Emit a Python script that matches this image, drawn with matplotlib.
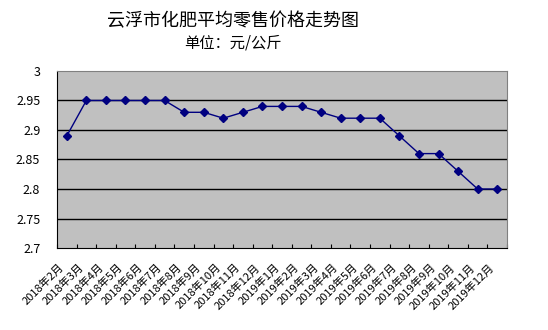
import matplotlib
matplotlib.use("Agg")
import matplotlib.pyplot as plt
import matplotlib.transforms as mtransforms
import numpy as np

plt.rcParams['font.family'] = ['Noto Sans CJK SC', 'DejaVu Sans']

# 月份与价格（元/公斤）
months = ['2018年2月', '2018年3月', '2018年4月', '2018年5月', '2018年6月', '2018年7月',
          '2018年8月', '2018年9月', '2018年10月', '2018年11月', '2018年12月',
          '2019年1月', '2019年2月', '2019年3月', '2019年4月', '2019年5月', '2019年6月',
          '2019年7月', '2019年8月', '2019年9月', '2019年10月', '2019年11月', '2019年12月']
prices = [2.89, 2.95, 2.95, 2.95, 2.95, 2.95, 2.93, 2.93, 2.92, 2.93, 2.94,
          2.94, 2.94, 2.93, 2.92, 2.92, 2.92, 2.89, 2.86, 2.86, 2.83, 2.80, 2.80]
y_ticks = [2.7, 2.75, 2.8, 2.85, 2.9, 2.95, 3.0]
y_labels = ['2.7', '2.75', '2.8', '2.85', '2.9', '2.95', '3']

fig = plt.figure(figsize=(5.48, 3.30), dpi=100)
ax = fig.add_axes([57 / 548, 1 - 248 / 330, 450 / 548, 177 / 330])
ax.set_facecolor('#C0C0C0')

x = np.arange(len(months))
ax.plot(x, prices, color='#000080', lw=1, marker='D', ms=4, mfc='#000080', mec='#000080', zorder=3)

ax.set_xlim(-0.5, len(months) - 0.5)
ax.set_ylim(2.7, 3.0)
ax.set_yticks(y_ticks)
ax.set_yticklabels(y_labels, fontsize=9)
ax.tick_params(axis='y', length=0, pad=12)
for yv in y_ticks[1:-1]:
    ax.axhline(yv, color='black', lw=1, zorder=1)

# 刻度位于分类边界
ax.set_xticks(np.arange(len(months) + 1) - 0.5, minor=False)
ax.set_xticklabels([])
ax.tick_params(axis='x', direction='in', length=3, width=0.8, color='black')
ax.set_xticks(x, minor=True)
ax.set_xticklabels(months, minor=True, rotation=45, ha='right', va='top',
                   rotation_mode='anchor', fontsize=8)
ax.tick_params(axis='x', which='minor', length=0, pad=10)
offset = mtransforms.ScaledTranslation(-8 / 100, 0, fig.dpi_scale_trans)
for lbl in ax.get_xticklabels(minor=True):
    lbl.set_transform(lbl.get_transform() + offset)

for side in ['top', 'right']:
    ax.spines[side].set_color('#808080')
for side in ['left', 'bottom']:
    ax.spines[side].set_color('black')

fig.text(233 / 548, 1 - 21 / 330, '云浮市化肥平均零售价格走势图', ha='center', va='center', fontsize=13)
fig.text(233 / 548, 1 - 43 / 330, '单位：元/公斤', ha='center', va='center', fontsize=11)

fig.savefig('out.png', dpi=100)
